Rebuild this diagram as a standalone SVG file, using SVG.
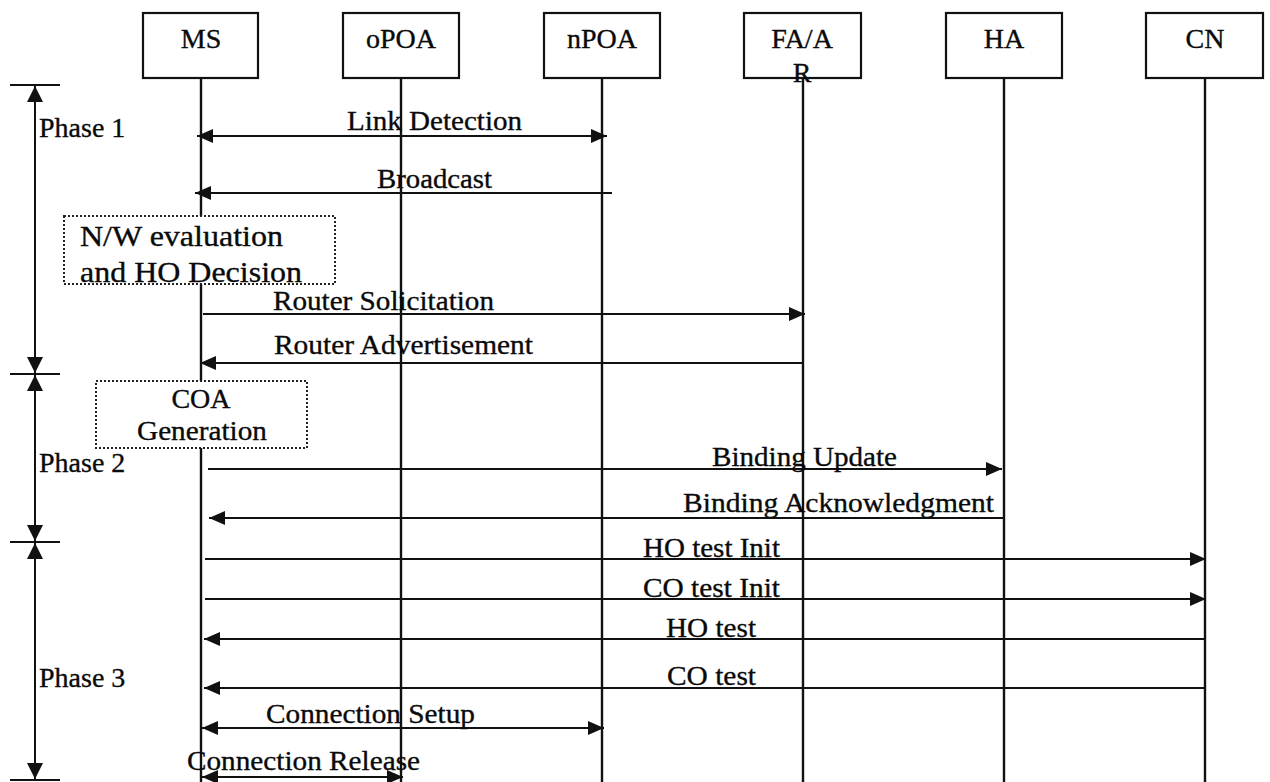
<svg xmlns="http://www.w3.org/2000/svg" width="1270" height="782" viewBox="0 0 1270 782">
  <style>
    text { font-family: "Liberation Serif", "Times New Roman", serif; font-size: 28px; fill: #0a0a0a; stroke: #0a0a0a; stroke-width: 0.35; }
    .box { fill: #fff; stroke: #111; stroke-width: 2.2; }
    .note { fill: #fff; stroke: #222; stroke-width: 2; stroke-dasharray: 2 2; }
    .life { stroke: #111; stroke-width: 2.4; fill: none; }
    .msg { stroke: #111; stroke-width: 1.8; fill: none; }
    .fwd { marker-end: url(#arrow); }
    .back { marker-start: url(#arrow); }
    .both { marker-start: url(#arrow); marker-end: url(#arrow); }
    .phase { stroke: #111; stroke-width: 2; fill: none; marker-start: url(#parrow); marker-end: url(#parrow); }
    .tick { stroke: #111; stroke-width: 2.2; }
    .c { text-anchor: middle; }
    .big { font-size: 30px; }
  </style>
  <defs>
    <marker id="arrow" markerUnits="userSpaceOnUse" markerWidth="16" markerHeight="14" refX="16" refY="7" orient="auto-start-reverse" viewBox="0 0 16 14">
      <path d="M0,0 L16,7 L0,14 z" fill="#111"/>
    </marker>
    <marker id="parrow" markerUnits="userSpaceOnUse" markerWidth="16" markerHeight="16" refX="16" refY="8" orient="auto-start-reverse" viewBox="0 0 16 16">
      <path d="M0,0 L16,8 L0,16 z" fill="#111"/>
    </marker>
  </defs>

  <!-- lifelines and messages -->
  <g id="connectors">
    <line class="life" x1="201" y1="78" x2="201" y2="782"/>
    <line class="life" x1="401" y1="78" x2="401" y2="782"/>
    <line class="life" x1="602" y1="78" x2="602" y2="782"/>
    <line class="life" x1="803" y1="78" x2="803" y2="782"/>
    <line class="life" x1="1004" y1="78" x2="1004" y2="782"/>
    <line class="life" x1="1205" y1="78" x2="1205" y2="782"/>

    <line class="msg both" x1="197" y1="136" x2="607" y2="136"/>
    <line class="msg back" x1="195" y1="193" x2="612" y2="193"/>
    <line class="msg fwd" x1="203" y1="314" x2="805" y2="314"/>
    <line class="msg back" x1="200" y1="363" x2="803" y2="363"/>
    <line class="msg fwd" x1="208" y1="469" x2="1002" y2="469"/>
    <line class="msg back" x1="209" y1="518" x2="1003" y2="518"/>
    <line class="msg fwd" x1="205" y1="559" x2="1206" y2="559"/>
    <line class="msg fwd" x1="205" y1="599" x2="1206" y2="599"/>
    <line class="msg back" x1="204" y1="639" x2="1205" y2="639"/>
    <line class="msg back" x1="204" y1="688" x2="1205" y2="688"/>
    <line class="msg both" x1="202" y1="728" x2="604" y2="728"/>
    <line class="msg both" x1="202" y1="777" x2="403" y2="777"/>
  </g>

  <!-- message labels -->
  <g id="labels">
    <text x="347" y="130" textLength="175" lengthAdjust="spacingAndGlyphs">Link Detection</text>
    <text x="377" y="188" textLength="115" lengthAdjust="spacingAndGlyphs">Broadcast</text>
    <text x="273" y="310" textLength="221" lengthAdjust="spacingAndGlyphs">Router Solicitation</text>
    <text x="274" y="354" textLength="259" lengthAdjust="spacingAndGlyphs">Router Advertisement</text>
    <text x="712" y="466" textLength="185" lengthAdjust="spacingAndGlyphs">Binding Update</text>
    <text x="683" y="512" textLength="311" lengthAdjust="spacingAndGlyphs">Binding Acknowledgment</text>
    <text x="643" y="557" textLength="137" lengthAdjust="spacingAndGlyphs">HO test Init</text>
    <text x="643" y="597" textLength="137" lengthAdjust="spacingAndGlyphs">CO test Init</text>
    <text x="666" y="637" textLength="90" lengthAdjust="spacingAndGlyphs">HO test</text>
    <text x="667" y="685" textLength="89" lengthAdjust="spacingAndGlyphs">CO test</text>
    <text x="266" y="723" textLength="209" lengthAdjust="spacingAndGlyphs">Connection Setup</text>
    <text x="187" y="770" textLength="233" lengthAdjust="spacingAndGlyphs">Connection Release</text>
  </g>

  <!-- participants -->
  <g id="node-ms">
    <rect class="box" x="143" y="13" width="115" height="65"/>
    <text class="c" x="201" y="48">MS</text>
  </g>
  <g id="node-opoa">
    <rect class="box" x="343" y="13" width="116" height="65"/>
    <text class="c" x="401" y="48">oPOA</text>
  </g>
  <g id="node-npoa">
    <rect class="box" x="544" y="13" width="116" height="65"/>
    <text class="c" x="602" y="48">nPOA</text>
  </g>
  <g id="node-faar">
    <rect class="box" x="744" y="13" width="117" height="65"/>
    <text class="c" x="802" y="48">FA/A</text>
    <text class="c" x="802" y="82">R</text>
  </g>
  <g id="node-ha">
    <rect class="box" x="946" y="13" width="116" height="65"/>
    <text class="c" x="1004" y="48">HA</text>
  </g>
  <g id="node-cn">
    <rect class="box" x="1146" y="13" width="117" height="65"/>
    <text class="c" x="1205" y="48">CN</text>
  </g>

  <!-- local processing steps at MS -->
  <g id="node-nw-eval">
    <rect class="note" x="64" y="216" width="271" height="68"/>
    <text class="big" x="80" y="246" textLength="203" lengthAdjust="spacingAndGlyphs">N/W evaluation</text>
    <text class="big" x="80" y="282" textLength="222" lengthAdjust="spacingAndGlyphs">and HO Decision</text>
  </g>
  <g id="node-coa">
    <rect class="note" x="96" y="381" width="211" height="67"/>
    <text class="c" x="201" y="408">COA</text>
    <text x="137" y="440" textLength="130" lengthAdjust="spacingAndGlyphs">Generation</text>
  </g>

  <!-- phase brackets -->
  <g id="phases">
    <line class="tick" x1="10" y1="85" x2="60" y2="85"/>
    <line class="tick" x1="10" y1="374" x2="60" y2="374"/>
    <line class="tick" x1="10" y1="542" x2="60" y2="542"/>
    <line class="tick" x1="10" y1="780" x2="60" y2="780"/>
    <line class="phase" x1="35" y1="86" x2="35" y2="373"/>
    <line class="phase" x1="35" y1="375" x2="35" y2="541"/>
    <line class="phase" x1="35" y1="543" x2="35" y2="779"/>
    <text x="39" y="137">Phase 1</text>
    <text x="39" y="472">Phase 2</text>
    <text x="39" y="687">Phase 3</text>
  </g>
</svg>
